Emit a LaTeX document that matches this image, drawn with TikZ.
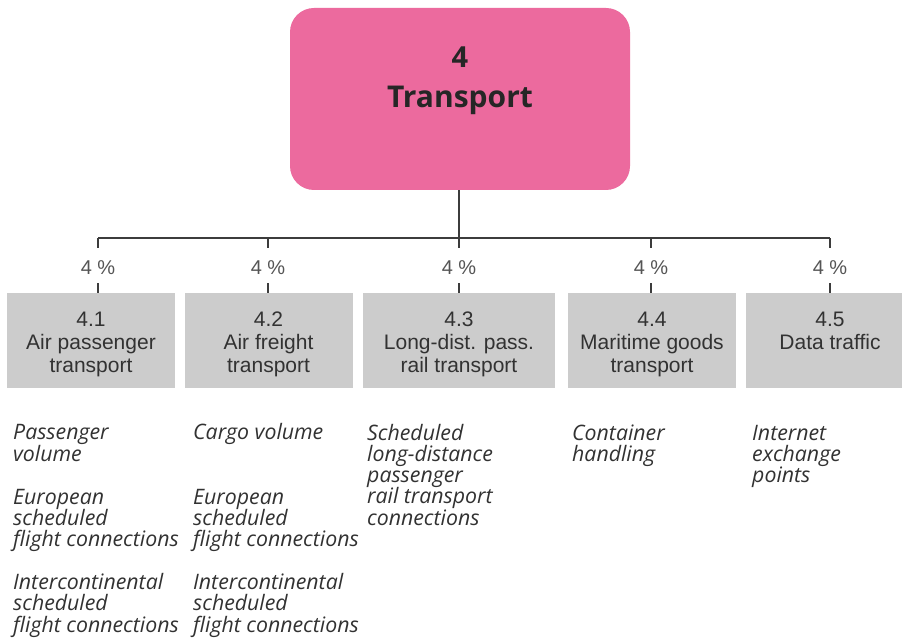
\documentclass[tikz,border=0pt]{standalone}
\usepackage{fontspec}
\setmainfont{Liberation Sans}
\newfontfamily\headfont{Open Sans}
\newfontfamily\itfont{Open Sans}
\definecolor{pinkbox}{RGB}{236,106,158}
\definecolor{graybox}{RGB}{204,204,204}
\definecolor{linegray}{RGB}{60,60,60}
\definecolor{txtgray}{RGB}{50,50,50}
\definecolor{pctgray}{RGB}{85,85,85}
\begin{document}
\begin{tikzpicture}[x=1pt,y=-1pt,
  topbox/.style={rectangle,rounded corners=24pt,fill=pinkbox,minimum width=340pt,minimum height=182pt,inner sep=0pt},
  subbox/.style={rectangle,fill=graybox,minimum width=168pt,minimum height=95pt,inner sep=0pt},
  boxtext/.style={anchor=base,align=center,inner sep=0pt,text=txtgray,font=\fontsize{21}{23}\selectfont},
  pct/.style={anchor=base,inner sep=0pt,text=pctgray,font=\fontsize{20}{22}\selectfont},
  indtext/.style={anchor=base west,align=left,inner sep=0pt,text=txtgray,font=\itfont\itshape\fontsize{21.3}{21.3}\selectfont},
  conn/.style={draw=linegray,line width=1.6pt}]
\useasboundingbox (0,0) rectangle (902,639);
\fill[white] (0,0) rectangle (902,639);
% top box
\node[topbox] (top) at (460,99) {};
\node[anchor=base,inner sep=0pt,font=\headfont\bfseries\fontsize{29}{31}\selectfont,text=black!85] (topnum) at (460,68) {4};
\node[anchor=base,inner sep=0pt,font=\headfont\bfseries\fontsize{30}{32}\selectfont,text=black!85] (toptitle) at (460,108) {Transport};
% sub boxes
\begin{scope}
\clip (0,0) rectangle (902,639);
\node[subbox] (b1) at (91,340.5) {};
\node[subbox] (b2) at (268.5,340.5) {};
\node[subbox,minimum width=192pt] (b3) at (459,340.5) {};
\node[subbox] (b4) at (652,340.5) {};
\node[subbox] (b5) at (830,340.5) {};
\end{scope}
\node[boxtext] (b1t) at (91,372) {4.1\\Air passenger\\transport};
\node[boxtext] (b2t) at (268.5,372) {4.2\\Air freight\\transport};
\node[boxtext] (b3t) at (459,372) {4.3\\Long-dist. pass.\\rail transport};
\node[boxtext] (b4t) at (652,372) {4.4\\Maritime goods\\transport};
\node[boxtext] (b5t) at (830,349) {4.5\\Data traffic};
% connectors
\coordinate (t1) at (98,238);
\coordinate (t2) at (268,238);
\coordinate (t3) at (459,238);
\coordinate (t4) at (651,238);
\coordinate (t5) at (830,238);
\draw[conn] (top.south -| t3) -- (t3);
\draw[conn] (t1) -- (t5);
\foreach \i in {1,...,5}{
  \draw[conn] (t\i) -- ++(0,10);
  \node[pct] (p\i) at ([yshift=-36pt]t\i) {4 \%};
  \draw[conn] (b\i.north -| t\i) -- ++(0,-10);
}
% indicator texts (base = baseline of last line)
\node[indtext] (c1) at (13,632) {Passenger\\volume\\[21.5pt]European\\scheduled\\flight connections\\[21.5pt]Intercontinental\\scheduled\\flight connections};
\node[indtext] (c2) at (193,632) {Cargo volume\\[42.8pt]European\\scheduled\\flight connections\\[21.5pt]Intercontinental\\scheduled\\flight connections};
\node[indtext] (c3) at (367,525.2) {Scheduled\\long-distance\\passenger\\rail transport\\connections};
\node[indtext] (c4) at (572,461.3) {Container\\handling};
\node[indtext] (c5) at (752,482.6) {Internet\\exchange\\points};
\end{tikzpicture}
\end{document}
